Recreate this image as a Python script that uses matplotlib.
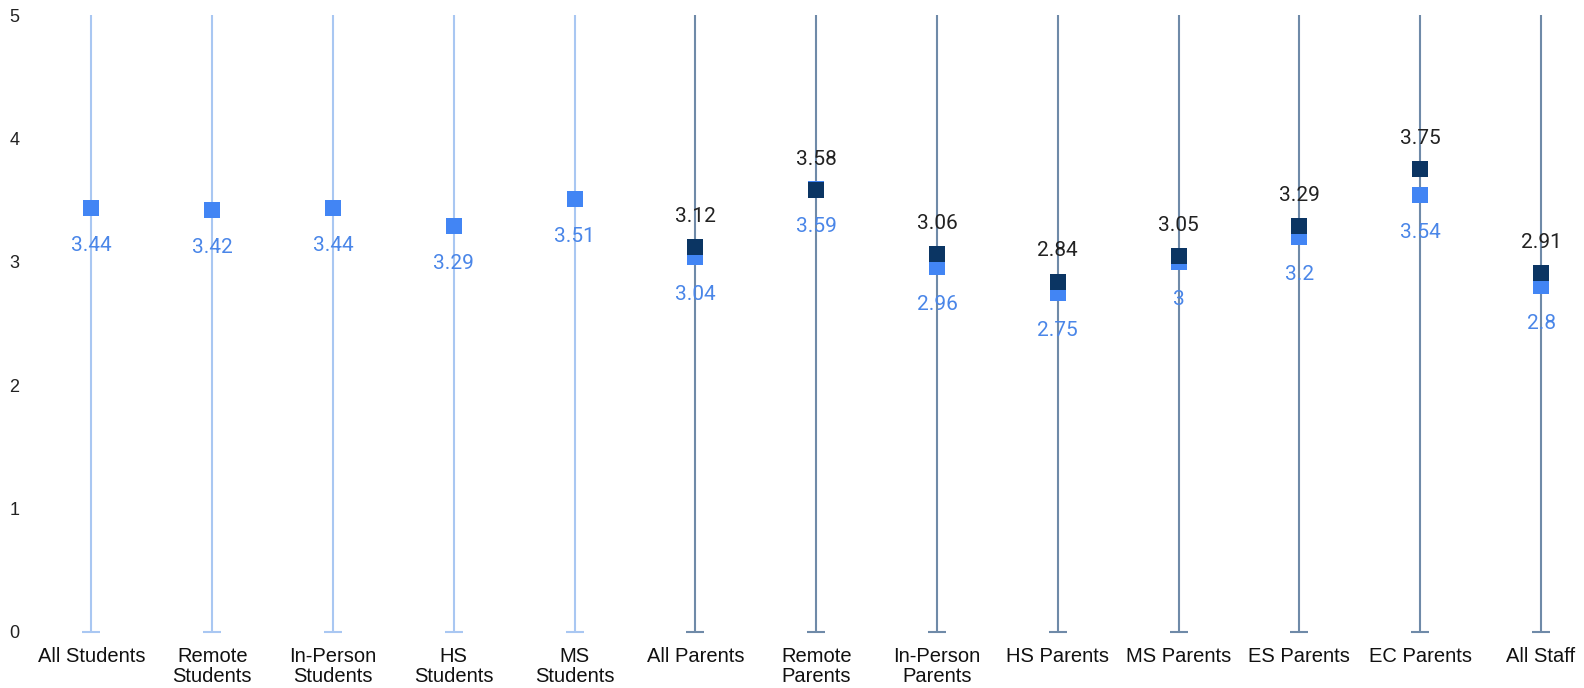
import matplotlib
matplotlib.use("Agg")
import matplotlib.pyplot as plt
import numpy as np

categories = ["All Students", "Remote\nStudents", "In-Person\nStudents", "HS\nStudents",
              "MS\nStudents", "All Parents", "Remote\nParents", "In-Person\nParents",
              "HS Parents", "MS Parents", "ES Parents", "EC Parents", "All Staff"]
light_values = [3.44, 3.42, 3.44, 3.29, 3.51, 3.04, 3.59, 2.96, 2.75, 3.0, 3.2, 3.54, 2.8]
dark_values = [None, None, None, None, None, 3.12, 3.58, 3.06, 2.84, 3.05, 3.29, 3.75, 2.91]
y_ticks = [0, 1, 2, 3, 4, 5]

LIGHT_LINE = "#a9c7f2"
DARK_LINE = "#6f8aa8"
LIGHT_MARK = "#4285f4"
DARK_MARK = "#0b3563"
LIGHT_TEXT = "#4a86e8"

fig = plt.figure(figsize=(15.84, 6.88), dpi=100)
ax = fig.add_axes([31 / 1584, 56 / 688, (1584 - 31) / 1584, (673 - 56) / 688])

x = np.arange(len(categories))
for i in x:
    col = DARK_LINE if dark_values[i] is not None else LIGHT_LINE
    ax.vlines(i, 0, 5, color=col, lw=1.5, zorder=1)
    ax.plot([i], [0], marker="_", ms=13, mew=1.5, color=col, zorder=1, clip_on=False)

ax.scatter(x, light_values, marker="s", s=135, color=LIGHT_MARK, zorder=3, linewidths=0)
for i, v in enumerate(light_values):
    ax.annotate(f"{v:g}", (i, v), xytext=(0, -27), textcoords="offset points",
                ha="center", va="center", color=LIGHT_TEXT, fontsize=15,
                family="Roboto", zorder=5)

dx = [i for i, v in enumerate(dark_values) if v is not None]
dv = [v for v in dark_values if v is not None]
ax.scatter(dx, dv, marker="s", s=135, color=DARK_MARK, zorder=4, linewidths=0)
for i, v in zip(dx, dv):
    ax.annotate(f"{v:g}", (i, v), xytext=(0, 22), textcoords="offset points",
                ha="center", va="center", color="#222222", fontsize=15,
                family="Roboto", zorder=5)

ax.set_xlim(-0.5, 12 + (1584 - 1541) / 120.8)
ax.set_ylim(0, 5)
ax.set_yticks(y_ticks)
ax.set_yticklabels([str(t) for t in y_ticks], fontsize=13, family="Liberation Sans", color="#222222")
ax.set_xticks(x)
ax.set_xticklabels(categories, fontsize=14.5, family="Liberation Sans", color="#111111",
                   linespacing=1.08)
ax.tick_params(axis="both", length=0)
ax.tick_params(axis="x", pad=11)
for lab in ax.get_yticklabels():
    lab.set_horizontalalignment("center")
ax.yaxis.set_tick_params(pad=12)
for s in ax.spines.values():
    s.set_visible(False)

fig.savefig("out.png", dpi=100)
